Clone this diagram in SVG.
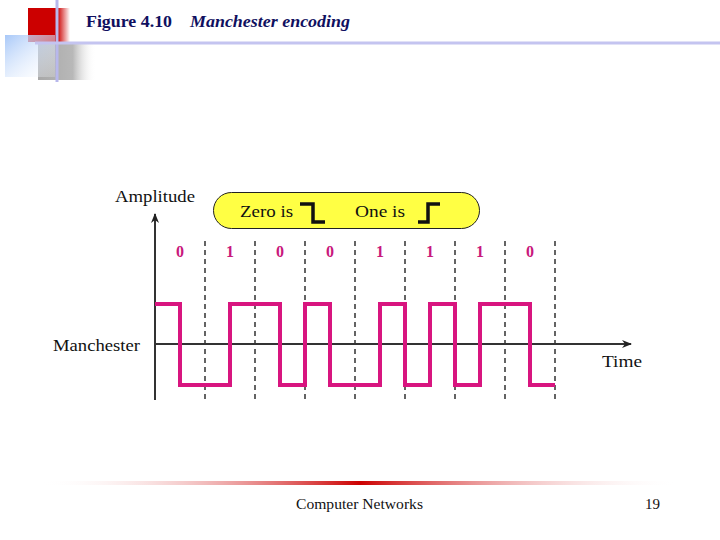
<svg xmlns="http://www.w3.org/2000/svg" width="720" height="540" viewBox="0 0 720 540">
<defs>
<linearGradient id="redg" x1="0" y1="0" x2="1" y2="0">
<stop offset="0" stop-color="#cc0000"/><stop offset="0.7" stop-color="#cc0000"/><stop offset="1" stop-color="#cc0000" stop-opacity="0"/>
</linearGradient>
<linearGradient id="blueg" x1="0" y1="0" x2="1" y2="1">
<stop offset="0" stop-color="#a8c8f8"/><stop offset="1" stop-color="#ffffff" stop-opacity="0.2"/>
</linearGradient>
<linearGradient id="grayg" x1="0" y1="0" x2="1" y2="0">
<stop offset="0" stop-color="#a8a8a8"/><stop offset="0.6" stop-color="#b8b8b8"/><stop offset="1" stop-color="#ffffff" stop-opacity="0"/>
</linearGradient>
<linearGradient id="footg" x1="0" y1="0" x2="1" y2="0">
<stop offset="0" stop-color="#ffffff" stop-opacity="0"/><stop offset="0.5" stop-color="#cc0000"/><stop offset="1" stop-color="#ffffff" stop-opacity="0"/>
</linearGradient>
<marker id="arr" viewBox="0 0 10 10" refX="9" refY="5" markerWidth="10" markerHeight="10" markerUnits="userSpaceOnUse" orient="auto">
<path d="M0,1 L10,5 L0,9 L3,5 Z" fill="#222"/>
</marker>
<style>
.dash{stroke:#111;stroke-width:1.3;stroke-dasharray:5,4;fill:none}
.bit{font-family:"Liberation Serif",serif;font-weight:bold;font-size:16px;fill:#c8187c;text-anchor:middle}
.lbl{font-family:"Liberation Serif",serif;font-size:17px;fill:#111}
.ax{stroke:#333;stroke-width:2;fill:none}
</style>
</defs>
<rect width="720" height="540" fill="#ffffff"/>
<g id="header">
<rect x="28" y="8" width="42" height="34" fill="url(#redg)"/>
<rect x="38" y="42" width="58" height="38" fill="url(#grayg)"/>
<rect x="5" y="35" width="50" height="42" fill="url(#blueg)"/>
<line x1="57" y1="0" x2="57" y2="82" stroke="#b8b8ec" stroke-width="3"/>
<line x1="35" y1="43" x2="720" y2="43" stroke="#c4c4f0" stroke-width="3"/>
<text x="86" y="27" font-family="'Liberation Serif',serif" font-size="17" font-weight="bold" fill="#101060" textLength="86" lengthAdjust="spacingAndGlyphs">Figure 4.10</text>
<text x="190" y="27" font-family="'Liberation Serif',serif" font-size="17" font-weight="bold" font-style="italic" fill="#101060" textLength="160" lengthAdjust="spacingAndGlyphs">Manchester encoding</text>
</g>
<g id="legend">
<rect x="213.5" y="192.5" width="266" height="36" rx="18" fill="#ffff44" stroke="#222" stroke-width="1"/>
<text x="240" y="217" class="lbl" textLength="53" lengthAdjust="spacingAndGlyphs">Zero is</text>
<polyline points="300,204 313,204 313,222 325,222" fill="none" stroke="#111" stroke-width="3.5"/>
<text x="355" y="217" class="lbl" textLength="50" lengthAdjust="spacingAndGlyphs">One is</text>
<polyline points="418,222 428,222 428,204 440,204" fill="none" stroke="#111" stroke-width="3.5"/>
</g>
<g id="labels">
<text x="115" y="202" class="lbl" textLength="80" lengthAdjust="spacingAndGlyphs">Amplitude</text>
<text x="53" y="351" class="lbl" textLength="87" lengthAdjust="spacingAndGlyphs">Manchester</text>
<text x="602" y="367" class="lbl" textLength="40" lengthAdjust="spacingAndGlyphs">Time</text>
</g>
<g id="bits">
<text x="180" y="257" class="bit">0</text>
<text x="230" y="257" class="bit">1</text>
<text x="280" y="257" class="bit">0</text>
<text x="330" y="257" class="bit">0</text>
<text x="380" y="257" class="bit">1</text>
<text x="430" y="257" class="bit">1</text>
<text x="480" y="257" class="bit">1</text>
<text x="530" y="257" class="bit">0</text>
</g>
<g id="connectors">
<line x1="205" y1="241" x2="205" y2="400" class="dash"/>
<line x1="255" y1="241" x2="255" y2="400" class="dash"/>
<line x1="305" y1="241" x2="305" y2="400" class="dash"/>
<line x1="355" y1="241" x2="355" y2="400" class="dash"/>
<line x1="405" y1="241" x2="405" y2="400" class="dash"/>
<line x1="455" y1="241" x2="455" y2="400" class="dash"/>
<line x1="505" y1="241" x2="505" y2="400" class="dash"/>
<line x1="555" y1="241" x2="555" y2="400" class="dash"/>
<line x1="155" y1="400" x2="155" y2="214" class="ax" marker-end="url(#arr)"/>
<line x1="155" y1="344" x2="631" y2="344" class="ax" marker-end="url(#arr)"/>
</g>
<g id="signal">
<polyline points="155,304 180,304 180,385 230,385 230,304 280,304 280,385 305,385 305,304 330,304 330,385 380,385 380,304 405,304 405,385 430,385 430,304 455,304 455,385 480,385 480,304 530,304 530,385 555,385" fill="none" stroke="#d8157f" stroke-width="4" stroke-linejoin="miter"/>
</g>
<g id="footer">
<rect x="40" y="481" width="640" height="4" fill="url(#footg)"/>
<text x="296" y="509" font-family="'Liberation Serif',serif" font-size="15" fill="#111" textLength="127" lengthAdjust="spacingAndGlyphs">Computer Networks</text>
<text x="645" y="509" font-family="'Liberation Serif',serif" font-size="15" fill="#111">19</text>
</g>
</svg>
